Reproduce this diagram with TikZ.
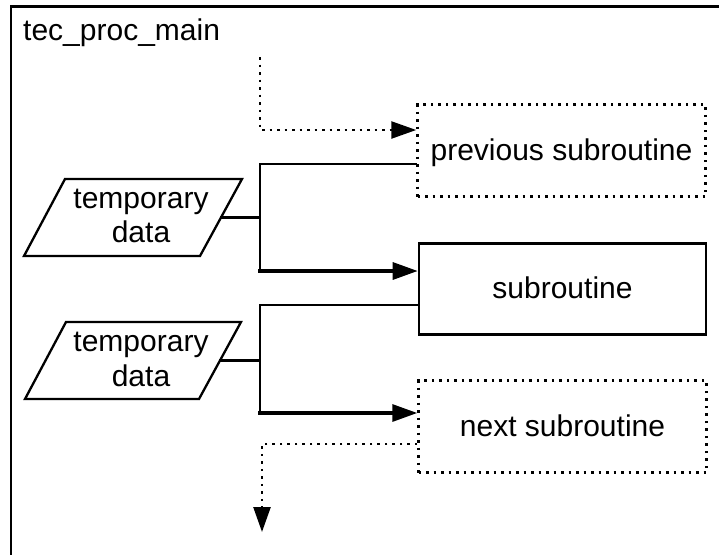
\documentclass[tikz,border=0pt]{standalone}
\usepackage{fontspec}
\setmainfont{Liberation Sans}
\usetikzlibrary{arrows.meta}
\begin{document}
\begin{tikzpicture}[x=1pt,y=-1pt,
  every node/.style={font=\fontsize{30}{34.5}\selectfont, inner sep=0pt},
  boxtext/.style={text height=24pt, text depth=5pt},
  solidbox/.style={boxtext, draw, line width=2.6pt, minimum width=287pt, minimum height=91pt},
  dotbox/.style={boxtext, draw, line width=2.5pt, dash pattern=on 2.5pt off 5pt,
                 minimum width=288pt, minimum height=92pt},
  wire/.style={line width=2.3pt, line cap=rect},
  flow/.style={line width=3.2pt, line cap=rect, -{Triangle[length=25pt,width=17pt]}},
  dotflow/.style={line width=2.5pt, dash pattern=on 2.5pt off 5pt,
                  -{Triangle[length=25pt,width=17pt]}},
  datashape/.style={line width=2.3pt, line join=miter}]
\useasboundingbox (0,0) rectangle (719,554);
\clip (0,0) rectangle (719,554);

% enclosing procedure frame
\draw[line width=2.8pt] (730,6.5) -- (11,6.5) -- (11,570);
\node[anchor=base west] (title) at (23,40) {tec\_proc\_main};

% subroutine boxes
\node[dotbox]   (prev) at (561.5,150.5) {previous subroutine};
\node[solidbox] (sub)  at (562.5,289)   {subroutine};
\node[dotbox]   (next) at (562.5,426.5) {next subroutine};

% temporary data stores
\draw[datashape] (65,179) -- (242,179) -- (200,256) -- (24,256) -- cycle;
\node[align=center] (td1) at (141,216) {temporary\\data};
\coordinate (td1r) at (221,217.5);

\draw[datashape] (66,322) -- (241,322) -- (199,399) -- (25,399) -- cycle;
\node[align=center] (td2) at (141,359.5) {temporary\\data};
\coordinate (td2r) at (220,360.5);

% bus points
\coordinate (start) at (260,57);
\coordinate (bus1)  at (260,217.5);
\coordinate (bend1) at (260,271);
\coordinate (bus2)  at (260,360.5);
\coordinate (bend2) at (260,413);
\coordinate (stop)  at (262,532);

% incoming flow from the preceding step
\draw[dotflow] (start) |- ([yshift=20.5pt]prev.west);

% previous subroutine + data -> subroutine
\draw[wire] ([yshift=-13.5pt]prev.west) -| (bend1);
\draw[wire] (td1r) -- (bus1);
\draw[flow] (bend1) -- (bend1 -| sub.west);

% subroutine + data -> next subroutine
\draw[wire] ([yshift=-16pt]sub.west) -| (bend2);
\draw[wire] (td2r) -- (bus2);
\draw[flow] (bend2) -- (bend2 -| next.west);

% outgoing flow to the following step
\draw[dotflow] ([yshift=-17.5pt]next.west) -| (stop);
\end{tikzpicture}
\end{document}
